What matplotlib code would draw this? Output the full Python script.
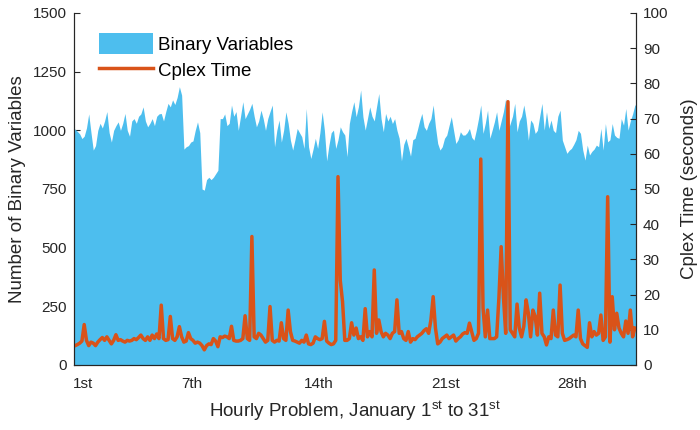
import matplotlib
matplotlib.use("Agg")
import matplotlib.pyplot as plt
import numpy as np

# Binary variables, 3-hour blocks (8 per day, 31 days)
binary_vars = [
    1005, 995, 985, 965, 975, 1010, 1070, 990,     # 1
    916, 935, 1000, 1030, 1010, 1040, 1080, 990,   # 2
    950, 1000, 1020, 1036, 1000, 1030, 1072, 1000, # 3
    975, 1040, 1050, 1030, 1060, 1070, 1100, 1040, # 4
    1015, 1030, 1050, 1020, 1060, 1070, 1072, 1040,# 5
    1080, 1115, 1100, 1130, 1110, 1140, 1186, 1150,# 6
    920, 930, 935, 950, 955, 1000, 1036, 990,      # 7
    750, 745, 790, 800, 790, 800, 815, 830,        # 8
    1050, 1050, 1070, 1020, 1030, 1108, 1060, 1080,# 9
    1000, 1060, 1122, 1050, 1070, 1090, 1115, 1060,# 10
    1015, 1040, 1086, 1050, 1000, 1050, 1080, 1108,# 11
    930, 1000, 1044, 950, 1000, 1079, 1030, 958,   # 12
    916, 960, 1008, 990, 973, 923, 1093, 930,      # 13
    880, 920, 966, 923, 990, 1079, 1000, 870,      # 14
    937, 990, 1001, 923, 960, 1015, 994, 980,      # 15
    888, 1029, 1080, 1122, 1058, 1100, 1172, 1058, # 16
    1001, 1050, 1100, 1060, 1040, 1100, 1157, 1050,# 17
    994, 1072, 1040, 1060, 1029, 1050, 1000, 966,  # 18
    870, 940, 966, 930, 890, 960, 966, 1001,       # 19
    1040, 1072, 1015, 1000, 1030, 1050, 1108, 1015,# 20
    944, 916, 930, 966, 980, 1020, 1058, 1000,     # 21
    944, 960, 994, 980, 980, 990, 1008, 970,       # 22
    958, 1000, 1050, 1108, 987, 1030, 1086, 966,   # 23
    1000, 1036, 1079, 1000, 1040, 1080, 1136, 1001,# 24
    1029, 1060, 1115, 994, 1040, 1060, 1108, 1050, # 25
    958, 1044, 1030, 987, 1000, 1060, 1115, 1001,  # 26
    1079, 1008, 1044, 1000, 990, 1060, 1086, 958,  # 27
    930, 902, 915, 923, 940, 960, 1000, 987,       # 28
    916, 873, 937, 895, 910, 920, 937, 930,        # 29
    1008, 916, 1029, 951, 960, 1029, 980, 970,     # 30
    966, 1050, 1022, 1093, 1001, 1040, 1070, 1108, # 31
]

# Cplex time (seconds), same 3-hour blocks
cplex_time = [
    5.5, 5.8, 6.2, 6.8, 11.5, 7.0, 5.5, 6.5,       # 1
    6.2, 5.5, 6.5, 7.2, 7.8, 7.0, 8.0, 7.0,        # 2
    6.0, 7.0, 8.6, 7.0, 7.2, 6.8, 6.5, 7.0,        # 3
    6.8, 7.0, 7.5, 7.2, 7.8, 8.5, 7.5, 7.0,        # 4
    8.0, 7.0, 8.5, 7.5, 8.8, 7.5, 17.0, 7.5,       # 5
    7.0, 7.2, 13.8, 7.5, 7.0, 8.0, 10.9, 8.0,      # 6
    6.5, 6.8, 9.2, 7.5, 7.0, 6.2, 6.5, 6.2,        # 7
    5.5, 4.3, 5.5, 6.0, 5.8, 7.5, 6.8, 5.2,        # 8
    8.0, 7.8, 8.2, 8.0, 7.5, 11.0, 7.0, 6.8,       # 9
    6.8, 7.0, 7.5, 14.0, 7.5, 7.0, 36.5, 8.0,      # 10
    7.5, 9.0, 8.5, 7.5, 6.5, 7.0, 16.6, 7.0,       # 11
    6.5, 7.0, 6.8, 12.0, 7.5, 7.0, 15.6, 9.5,      # 12
    7.0, 6.8, 6.5, 6.2, 7.0, 6.5, 8.5, 6.0,        # 13
    5.8, 6.2, 8.0, 7.5, 7.2, 7.5, 12.4, 6.8,       # 14
    6.2, 5.8, 6.0, 7.0, 53.5, 24.0, 18.0, 7.0,     # 15
    7.0, 7.5, 12.0, 8.5, 10.5, 7.5, 8.0, 7.0,      # 16
    16.0, 8.0, 9.5, 8.0, 27.0, 9.0, 12.8, 9.5,     # 17
    8.0, 9.0, 8.5, 7.5, 9.0, 9.5, 18.5, 9.0,       # 18
    9.5, 7.5, 7.0, 9.5, 6.5, 7.5, 7.2, 8.0,        # 19
    8.5, 9.0, 9.8, 10.3, 9.0, 12.8, 19.4, 10.5,    # 20
    6.0, 6.5, 7.5, 8.0, 8.5, 7.5, 8.0, 8.5,        # 21
    6.8, 7.5, 8.0, 8.8, 9.2, 9.0, 11.9, 9.5,       # 22
    7.0, 7.5, 9.0, 58.5, 16.2, 8.0, 15.6, 7.5,     # 23
    7.5, 7.5, 8.0, 19.0, 33.6, 19.4, 9.0, 74.8,    # 24
    10.0, 9.0, 8.0, 17.3, 10.5, 8.0, 11.0, 18.5,   # 25
    14.7, 8.0, 15.6, 13.8, 8.5, 20.4, 9.0, 8.0,    # 26
    5.7, 8.0, 7.5, 15.6, 8.5, 8.0, 22.7, 9.0,      # 27
    7.0, 7.2, 7.5, 8.0, 8.5, 8.0, 15.6, 7.5,       # 28
    6.0, 5.5, 5.0, 12.0, 8.0, 9.5, 8.5, 9.0,       # 29
    14.2, 7.0, 8.0, 47.8, 6.5, 19.4, 10.0, 14.7,   # 30
    10.5, 9.0, 8.0, 12.5, 9.0, 15.6, 8.0, 10.5,    # 31
]

hours_per_block = 3
total_hours = 744
tick_hours = [12, 156, 324, 492, 660]
tick_labels = ["1st", "7th", "14th", "21st", "28th"]
left_ticks = [0, 250, 500, 750, 1000, 1250, 1500]
right_ticks = list(range(0, 101, 10))

plt.rcParams['font.family'] = ['Liberation Sans', 'DejaVu Sans']
plt.rcParams['mathtext.fontset'] = 'custom'
plt.rcParams['mathtext.rm'] = 'Liberation Sans'
plt.rcParams['mathtext.it'] = 'Liberation Sans'

BLUE = '#4DBEEE'
ORANGE = '#D95319'
AX = '#262626'

fig = plt.figure(figsize=(7, 4.3), dpi=100)
ax = fig.add_axes([74/700, 1-365/430, 562/700, 352/430])

xc = np.arange(len(binary_vars)) * hours_per_block + hours_per_block / 2
bv = np.asarray(binary_vars, dtype=float)
xa = np.r_[0, xc, total_hours]
ya = np.r_[bv[0], bv, bv[-1]]
area = ax.fill_between(xa, 0, ya, color=BLUE, linewidth=0, label='Binary Variables')
ax.set_xlim(0, total_hours)
ax.set_ylim(0, 1500)
ax.set_yticks(left_ticks)
ax.set_xticks(tick_hours)
ax.set_xticklabels(tick_labels)
ax.set_axisbelow(True)
ax.tick_params(axis='y', direction='in', length=4.5, colors=AX, labelsize=11, pad=5)
ax.tick_params(axis='x', direction='in', length=0, colors=AX, labelsize=11, pad=9)
ax.set_ylabel('Number of Binary Variables', fontsize=13.5, color=AX, labelpad=5)
ax.set_xlabel('Hourly Problem, January 1$^{\\mathrm{st}}$ to 31$^{\\mathrm{st}}$',
              fontsize=13.5, color=AX, labelpad=6)
ax.spines['top'].set_visible(False)
for s in ['left', 'bottom', 'right']:
    ax.spines[s].set_color(AX)

ax2 = ax.twinx()
line, = ax2.plot(xc, cplex_time, color=ORANGE, linewidth=2.5, label='Cplex Time')
ax2.set_ylim(0, 100)
ax2.set_yticks(right_ticks)
ax2.tick_params(axis='y', direction='in', length=4.5, colors=AX, labelsize=11, pad=5)
ax2.set_ylabel('Cplex Time (seconds)', fontsize=13.5, color=AX, labelpad=9)
ax2.spines['top'].set_visible(False)
for s in ['left', 'bottom', 'right']:
    ax2.spines[s].set_color(AX)

ax2.legend([area, line], ['Binary Variables', 'Cplex Time'], loc='upper left',
           bbox_to_anchor=(0.014, 0.99), frameon=False, fontsize=13.5,
           handlelength=2.9, handleheight=1.3, labelspacing=0.3, handletextpad=0.25)

fig.savefig('out.png', dpi=100)
